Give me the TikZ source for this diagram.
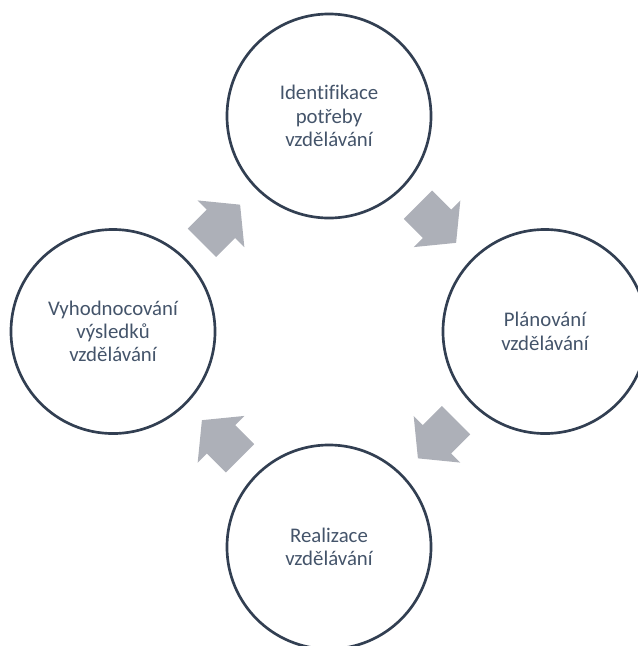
\documentclass[tikz,border=0pt]{standalone}
\usepackage{fontspec}
\setmainfont{Carlito}[Ligatures=NoCommon]
\usetikzlibrary{calc}

\definecolor{ringline}{RGB}{50,63,82}
\definecolor{ringtext}{RGB}{68,84,106}
\definecolor{arrowgray}{RGB}{173,176,184}

\begin{document}
\begin{tikzpicture}[x=0.025cm, y=-0.025cm,
  stage/.style={circle, draw=ringline, line width=1.9pt, minimum size=5.1cm,
    inner sep=0pt, text=ringtext, align=center,
    font=\fontsize{14.8}{16.6}\selectfont},
  flow/.style={fill=arrowgray}]
  % units are pixels, y grows downwards; page is 638 x 646
  \useasboundingbox (0,0) rectangle (638,646);
  % four stages around (329,331.5), 215.5 from the middle
  \node[stage] (ident) at (329,116)   {Identifikace\\potřeby\\vzdělávání};
  \node[stage] (plan)  at (545,331.5) {Plánování\\vzdělávání};
  \node[stage] (real)  at (329,547)   {Realizace\\vzdělávání};
  \node[stage] (eval)  at (113,331.5) {Vyhodnocování\\výsledků\\vzdělávání};
  % block arrows halfway between neighbours, tip along +x before rotating
  \foreach \from/\to/\ang in {eval/ident/45, ident/plan/-45, plan/real/-135, real/eval/135}
    \fill[flow, shift={($(\from)!0.5!(\to)$)}, rotate=\ang]
      (-27,-20) -- (0,-20) -- (0,-33) -- (27,0) -- (0,33) -- (0,20) -- (-27,20) -- cycle;
\end{tikzpicture}
\end{document}
